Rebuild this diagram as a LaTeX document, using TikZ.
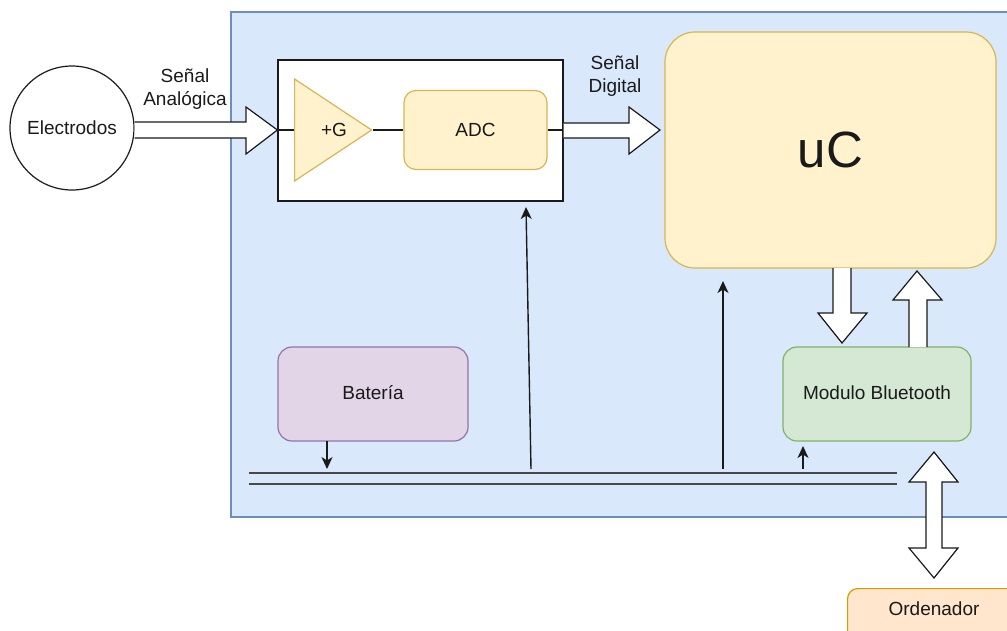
\documentclass[tikz,border=0pt]{standalone}
\usepackage{fontspec}
\setmainfont{Liberation Sans}
\usetikzlibrary{arrows.meta,shapes.geometric}
\definecolor{bluefill}{HTML}{DAE8FC}
\definecolor{bluestroke}{HTML}{6C8EBF}
\definecolor{yelfill}{HTML}{FFF2CC}
\definecolor{yelstroke}{HTML}{D6B656}
\definecolor{grnfill}{HTML}{D5E8D4}
\definecolor{grnstroke}{HTML}{82B366}
\definecolor{purfill}{HTML}{E1D5E7}
\definecolor{purstroke}{HTML}{9673A6}
\definecolor{orfill}{HTML}{FFE6CC}
\definecolor{orstroke}{HTML}{D79B00}
\definecolor{ink}{HTML}{1A1A1A}
\tikzset{
  lbl/.style={font=\fontsize{19}{22.5}\selectfont, text=ink, align=center, inner sep=0pt},
  rbox/.style={draw, line width=1.2pt, rounded corners=#1, inner sep=0pt, font=\fontsize{19}{22}\selectfont, text=ink},
  blockarrow/.style={draw=ink, fill=white, line width=1.2pt, line join=miter},
  thin/.style={draw=ink, line width=1.4pt},
  tip/.style={-{Stealth[length=12pt,width=11pt,inset=3.5pt]}},
}
\begin{document}
\begin{tikzpicture}[x=1pt,y=-1pt]
\useasboundingbox (0,0) rectangle (1007,630);
\clip (0,0) rectangle (1007,630);
% background board
\draw[fill=bluefill, draw=bluestroke, line width=1.2pt] (231,12) rectangle (1012,517);
% electrodes
\node[circle, draw=ink, line width=1.2pt, minimum size=124pt, inner sep=0pt, font=\fontsize{19}{22}\selectfont, text=ink] (elec) at (72,128) {Electrodos};
% front-end box
\node[draw=ink, fill=white, line width=1.2pt, minimum width=285pt, minimum height=141pt, inner sep=0pt] (fe) at (420.5,130.5) {};
\node[isosceles triangle, isosceles triangle apex angle=67, draw=yelstroke, fill=yelfill, line width=1.2pt, minimum height=77pt, inner sep=0pt, anchor=west] (amp) at (294,130) {};
\node[lbl] at (334,130) {+G};
\node[rbox=12pt, draw=yelstroke, fill=yelfill, minimum width=143pt, minimum height=79pt] (adc) at (475.5,130) {ADC};
\draw[thin] (fe.west|-amp.west) -- (amp.west);
\draw[thin] (amp.apex) -- (adc.west|-amp.apex);
\draw[thin] (adc.east) -- (fe.east|-adc.east);
% uC
\node[rbox=30pt, draw=yelstroke, fill=yelfill, minimum width=331pt, minimum height=236pt, font=\fontsize{51}{60}\selectfont] (uc) at (830.5,150) {uC};
% Bluetooth
\node[rbox=14pt, draw=grnstroke, fill=grnfill, minimum width=188pt, minimum height=94pt] (bt) at (877,394) {\raisebox{3pt}{Modulo Bluetooth}};
% Bateria
\node[rbox=14pt, draw=purstroke, fill=purfill, minimum width=190pt, minimum height=94pt] (bat) at (373,394) {\raisebox{3pt}{Batería}};
% Ordenador
\node[rbox=10pt, draw=orstroke, fill=orfill, minimum width=200pt, minimum height=70pt, anchor=north west] (pc) at (847,588) {};
\node[lbl] at (934,609) {Ordenador};
% analog signal block arrow
\draw[blockarrow] (elec.east|-0,122) -- (246,122) -- (246,107) -- (fe.west|-0,130) -- (246,154) -- (246,138) -- (elec.east|-0,138);
\node[lbl] at (185,89) {Señal\\Analógica};
% digital signal block arrow
\draw[blockarrow] (fe.east|-0,123) -- (629,123) -- (629,107) -- (660,130) -- (629,154) -- (629,138) -- (fe.east|-0,138);
\node[lbl] at (615,76) {Señal\\Digital};
% uC -> BT
\draw[blockarrow] (833,268) -- (833,313) -- (818,313) -- (842,343) -- (867,313) -- (851,313) -- (851,268);
% BT -> uC
\draw[blockarrow] (909,347) -- (909,300) -- (893,300) -- (917,271) -- (942,300) -- (927,300) -- (927,347);
% double arrow BT <-> Ordenador
\draw[blockarrow] (934,452) -- (958,482) -- (942,482) -- (942,548) -- (958,548) -- (934,578) -- (909,548) -- (926,548) -- (926,482) -- (909,482) -- cycle;
% bus
\coordinate (busL) at (249,473);
\coordinate (busR) at (897,473);
\draw[draw=ink!80, line width=1.6pt] (busL) -- (busR);
\draw[draw=ink!80, line width=1.6pt] (249,484) -- (897,484);
% power arrows
\draw[thin, tip] (327,441) -- (327,469);
\coordinate (p1) at (531,469);
\draw[thin, tip] (p1) -- (526,207);
\coordinate (p2) at (723,469);
\draw[thin, tip] (p2) -- (723,281);
\coordinate (p3) at (803,469);
\draw[thin, tip] (p3) -- (803,446);
\end{tikzpicture}
\end{document}
